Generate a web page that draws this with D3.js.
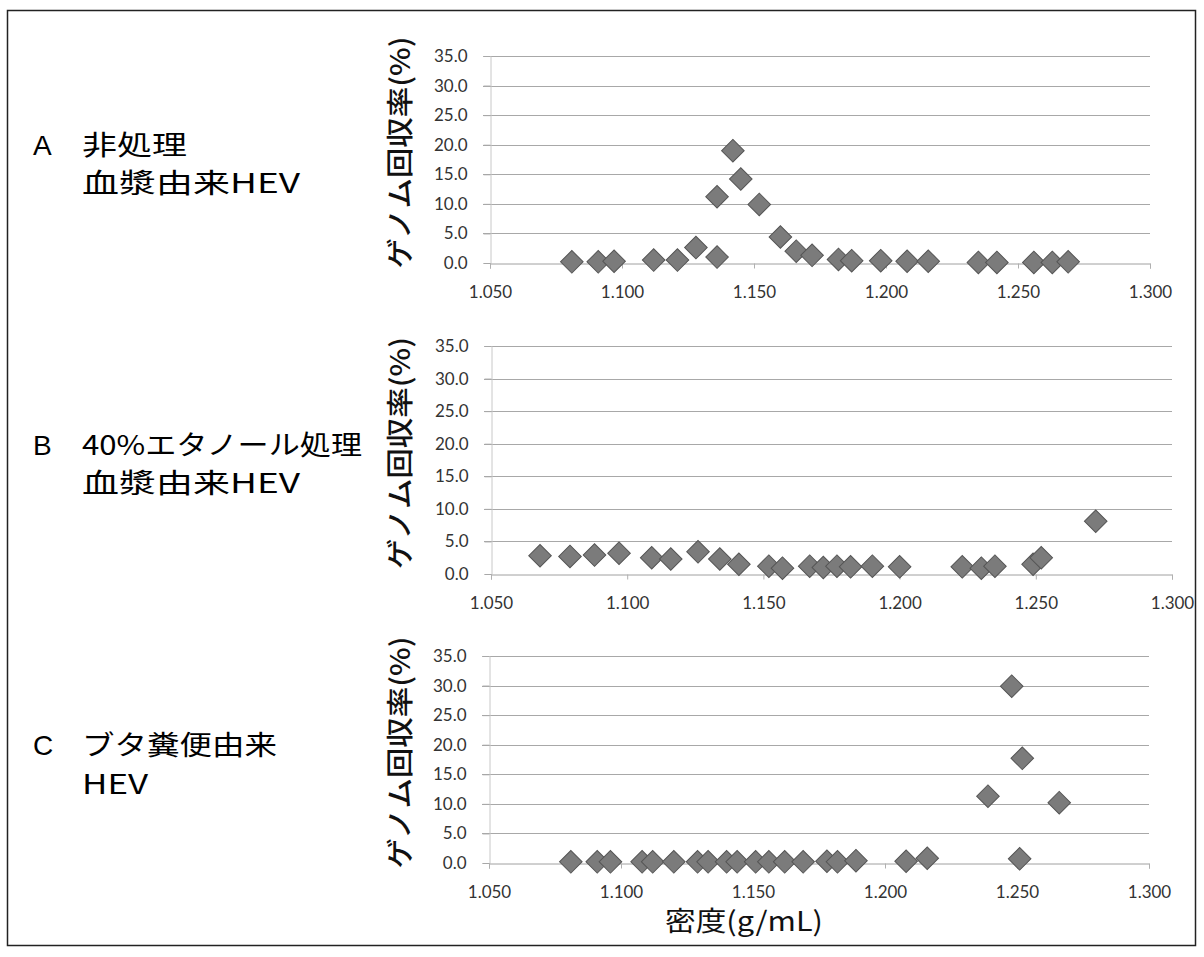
<!DOCTYPE html>
<html><head><meta charset="utf-8">
<script src="https://cdn.jsdelivr.net/npm/d3@7"></script>
<style>body{margin:0;background:#fff}svg{display:block}</style>
</head><body><svg id="c" width="1204" height="957"></svg>
<script>
// ---- data ----
const panelLetters = ["A", "B", "C"];
const panelLine1 = ["非処理", "40%エタノール処理", "ブタ糞便由来"];
const panelLine2 = ["血漿由来HEV", "血漿由来HEV", "HEV"];
const xTicks = [1.05, 1.10, 1.15, 1.20, 1.25, 1.30];
const yTicks = [0, 5, 10, 15, 20, 25, 30, 35];
const yTitle = "ゲノム回収率(%)";
const xTitle = "密度(g/mL)";

const densityA = [1.081,1.091,1.097,1.112,1.121,1.128,1.136,1.136,1.142,1.145,1.152,1.160,1.166,1.172,1.182,1.187,1.198,1.208,1.216,1.235,1.242,1.256,1.263,1.269];
const recoveryA = [0.2,0.2,0.3,0.5,0.5,2.6,1.0,11.2,19.0,14.2,9.9,4.4,2.0,1.3,0.6,0.4,0.4,0.3,0.3,0.1,0.1,0.1,0.1,0.2];

const densityB = [1.068,1.079,1.088,1.097,1.109,1.116,1.126,1.134,1.141,1.152,1.157,1.167,1.172,1.177,1.182,1.190,1.200,1.223,1.230,1.235,1.249,1.252,1.272];
const recoveryB = [2.8,2.7,2.9,3.2,2.5,2.3,3.4,2.3,1.5,1.2,0.9,1.2,1.0,1.2,1.1,1.2,1.1,1.1,0.9,1.2,1.5,2.5,8.1];

const densityC = [1.081,1.091,1.096,1.108,1.112,1.120,1.129,1.133,1.140,1.144,1.151,1.156,1.162,1.169,1.178,1.182,1.189,1.208,1.216,1.239,1.248,1.252,1.266,1.251];
const recoveryC = [0.2,0.2,0.2,0.2,0.2,0.2,0.2,0.2,0.2,0.2,0.2,0.2,0.2,0.2,0.3,0.2,0.4,0.3,0.8,11.3,29.9,17.7,10.2,0.7];

const series = [[densityA, recoveryA],[densityB, recoveryB],[densityC, recoveryC]];

// ---- layout ----
const panels = [
  {x0:490, x1:1150, y0:263, y1:56, labY:[155,193], w1:105, w2:218},
  {x0:491, x1:1172, y0:574, y1:346, labY:[455,493], w1:280, w2:218},
  {x0:489, x1:1149, y0:863, y1:656, labY:[755,794], w1:195, w2:66}
];
const svg = d3.select("#c");
const jp = "'Noto Sans CJK JP','Noto Sans',sans-serif";
const num = "Lato,'Open Sans',sans-serif";

svg.append("rect").attr("x",7.5).attr("y",10.5).attr("width",1188).attr("height",935)
  .attr("fill","none").attr("stroke","#222").attr("stroke-width",1.5);

panels.forEach((p, i) => {
  const x = d3.scaleLinear().domain([1.05,1.30]).range([p.x0,p.x1]);
  const y = d3.scaleLinear().domain([0,35]).range([p.y0,p.y1]);
  const g = svg.append("g");

  // gridlines
  g.selectAll(".gl").data(yTicks.slice(1)).enter().append("line")
    .attr("x1",p.x0-7).attr("x2",p.x1).attr("y1",d=>Math.round(y(d))+0.5).attr("y2",d=>Math.round(y(d))+0.5)
    .attr("stroke","#a8a8a8").attr("stroke-width",1);

  // y axis
  const ya = d3.axisLeft(y).tickValues(yTicks).tickFormat(d3.format(".1f")).tickSize(7).tickPadding(16);
  const yg = g.append("g").attr("transform",`translate(${p.x0+0.5},0)`).call(ya);
  yg.select(".domain").attr("stroke","#c8c8c8");
  yg.selectAll(".tick line").attr("stroke","#a8a8a8");
  yg.selectAll("text").attr("font-family",num).attr("font-size",17).attr("fill","#333");

  // x axis
  const xa = d3.axisBottom(x).tickValues(xTicks).tickFormat(d3.format(".3f")).tickSize(5).tickPadding(17);
  const xg = g.append("g").attr("transform",`translate(0,${Math.round(p.y0)+0.5})`).call(xa);
  xg.select(".domain").attr("stroke","#a0a0a0");
  xg.selectAll(".tick line").attr("stroke","#b0b0b0");
  xg.selectAll("text").attr("font-family",num).attr("font-size",17).attr("fill","#333");

  // y title
  g.append("text").attr("transform",`translate(410,${(p.y0+p.y1)/2-7}) rotate(-90)`)
    .attr("text-anchor","middle").attr("font-family",jp).attr("font-size",27).attr("font-weight",500)
    .attr("textLength",232).attr("lengthAdjust","spacingAndGlyphs").attr("fill","#111").text(yTitle);

  // points
  const [dx, dy] = series[i];
  const sym = d3.symbol().type(d3.symbolSquare).size(255);
  g.selectAll(".pt").data(dx.map((d,k)=>[d,dy[k]])).enter().append("path")
    .attr("d",sym).attr("transform",d=>`translate(${x(d[0])},${y(d[1])}) rotate(45)`)
    .attr("fill","#7b7b7b").attr("stroke","#555").attr("stroke-width",1);

  // panel labels
  svg.append("text").attr("x",33).attr("y",p.labY[0]).attr("font-family","'Liberation Sans',Arial,sans-serif")
    .attr("font-size",28).attr("fill","#000").text(panelLetters[i]);
  svg.append("text").attr("x",82).attr("y",p.labY[0]).attr("font-family",jp).attr("font-size",27).attr("fill","#000")
    .attr("textLength",p.w1).attr("lengthAdjust","spacingAndGlyphs").text(panelLine1[i]);
  svg.append("text").attr("x",82).attr("y",p.labY[1]).attr("font-family",jp).attr("font-size",27).attr("fill","#000")
    .attr("textLength",p.w2).attr("lengthAdjust","spacingAndGlyphs").text(panelLine2[i]);
});

svg.append("text").attr("x",744).attr("y",931).attr("text-anchor","middle").attr("font-family",jp)
  .attr("font-size",27).attr("fill","#111").attr("textLength",158).attr("lengthAdjust","spacingAndGlyphs").text(xTitle);
</script></body></html>
